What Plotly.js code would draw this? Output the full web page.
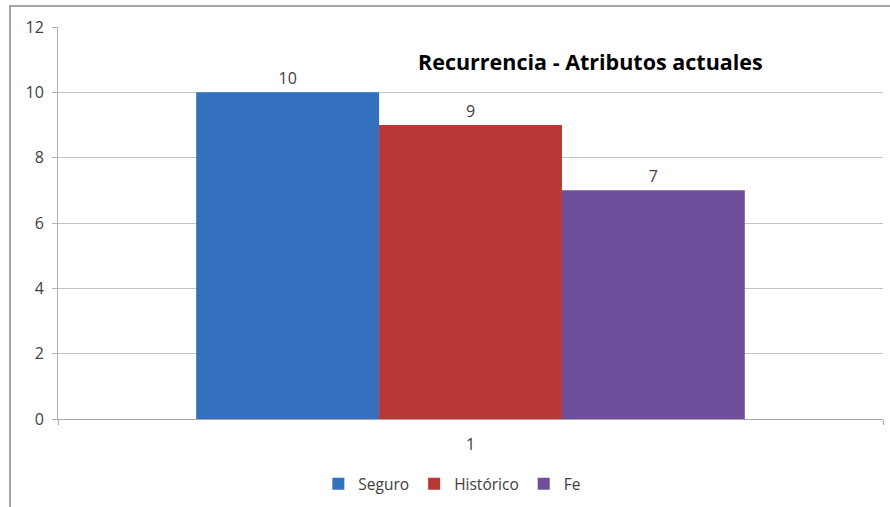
<!DOCTYPE html>
<html>
<head>
<meta charset="utf-8">
<script src="https://cdn.plot.ly/plotly-3.0.1.min.js"></script>
<style>html,body{margin:0;padding:0;background:#fff;}#chart{width:890px;height:507px;}</style>
</head>
<body>
<div id="chart"></div>
<script>
const categories = ['1'];
const seriesNames = ['Seguro', 'Histórico', 'Fe'];
const seguro = [10];
const historico = [9];
const fe = [7];
const yTicks = [0, 2, 4, 6, 8, 10, 12];
const chartTitle = 'Recurrencia - Atributos actuales';

const colors = ['#3470bd', '#b83634', '#6f4f9c'];
const FONT = 'Open Sans, Liberation Sans, sans-serif';
const values = [seguro, historico, fe];

const traces = values.map((v, i) => ({
  type: 'bar',
  name: seriesNames[i],
  x: categories,
  y: v,
  marker: {color: colors[i], line: {width: 0}},
  text: v.map(String),
  textposition: 'outside',
  constraintext: 'none',
  cliponaxis: false,
  textfont: {family: FONT, size: 16, color: '#404040'}
}));

const layout = {
  width: 890, height: 507,
  margin: {l: 58, r: 7, t: 27, b: 87},
  paper_bgcolor: '#ffffff',
  plot_bgcolor: '#ffffff',
  barmode: 'group',
  bargap: 0.335,
  bargroupgap: 0,
  font: {family: FONT, color: '#404040'},
  showlegend: true,
  legend: {
    orientation: 'h', x: 0.478, xanchor: 'center', y: -0.163, yanchor: 'middle',
    font: {family: FONT, size: 15.5, color: '#404040'},
    itemwidth: 30, traceorder: 'normal'
  },
  xaxis: {
    type: 'category',
    showline: true, linecolor: '#a6a6a6', linewidth: 1.2,
    ticks: 'outside', tickson: 'boundaries', ticklen: 5, tickcolor: '#a6a6a6',
    tickfont: {family: FONT, size: 16, color: '#404040'},
    ticklabelstandoff: 11,
    showgrid: false, zeroline: false
  },
  yaxis: {
    range: [0, 12],
    tickvals: yTicks,
    ticktext: yTicks.map(String),
    showline: true, linecolor: '#b0b0b0', linewidth: 1,
    ticks: 'outside', ticklen: 5, tickcolor: '#b0b0b0',
    showgrid: true, gridcolor: '#c4c4c4', gridwidth: 1,
    zeroline: false,
    ticklabelstandoff: 5,
    tickfont: {family: FONT, size: 16, color: '#404040'}
  },
  annotations: [{
    text: '<b>' + chartTitle + '</b>',
    xref: 'paper', yref: 'paper', x: 0.646, y: 0.911,
    xanchor: 'center', yanchor: 'middle', showarrow: false,
    font: {family: FONT, size: 21.5, color: '#000000'}
  }],
  shapes: [{
    type: 'rect', xref: 'paper', yref: 'paper',
    x0: -0.0582, x1: 1.2, y0: -0.4, y1: 1.0534,
    line: {color: '#868686', width: 1.5}, fillcolor: 'rgba(0,0,0,0)', layer: 'below'
  }]
};

Plotly.newPlot('chart', traces, layout, {displayModeBar: false, staticPlot: true});
</script>
</body>
</html>
